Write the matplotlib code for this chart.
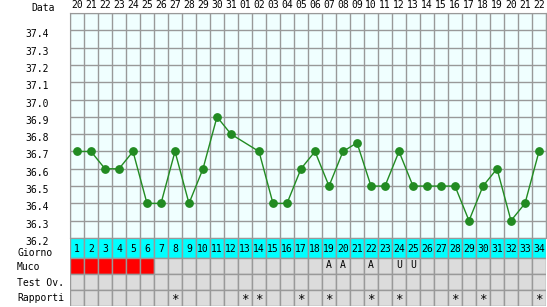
import matplotlib
matplotlib.use('Agg')
import matplotlib.pyplot as plt
import matplotlib.transforms as mtrans
import numpy as np

# --- data ---
dates = ['20', '21', '22', '23', '24', '25', '26', '27', '28', '29', '30', '31',
         '01', '02', '03', '04', '05', '06', '07', '08', '09', '10', '11', '12',
         '13', '14', '15', '16', '17', '18', '19', '20', '21', '22']
giorni = list(range(1, 35))
temps = [36.7, 36.7, 36.6, 36.6, 36.7, 36.4, 36.4, 36.7, 36.4, 36.6,
         36.9, 36.8, None, 36.7, 36.4, 36.4, 36.6, 36.7, 36.5, 36.7,
         36.75, 36.5, 36.5, 36.7, 36.5, 36.5, 36.5, 36.5, 36.3, 36.5,
         36.6, 36.3, 36.4, 36.7]
muco_red = [1, 2, 3, 4, 5, 6]
muco_days = [19, 20, 22, 24, 25]
muco_text = ['A', 'A', 'A', 'U', 'U']
rapporti = [8, 13, 14, 17, 19, 22, 24, 28, 30, 34]
row_names = ['Giorno', 'Muco', 'Test Ov.', 'Rapporti']

W, H = 547, 307
GRID = '#999999'
GREEN = '#228B22'
FONT = 'DejaVu Sans Mono'
FS = 7

fig = plt.figure(figsize=(W / 100, H / 100), dpi=100)
fig.patch.set_facecolor('white')

# temperature chart
ax = fig.add_axes([70 / W, (H - 238) / H, 476 / W, 225 / H])
ax.set_facecolor('#F0FFFF')
ax.set_xlim(0.5, 34.5)
ax.set_ylim(36.2, 37.5)
ax.set_xticks(giorni)
ax.set_xticklabels(dates, fontsize=FS, family=FONT)
ax.xaxis.tick_top()
ax.set_xticks(np.arange(0.5, 35, 1), minor=True)
yt = np.round(np.arange(36.2, 37.45, 0.1), 1)
ax.set_yticks(list(yt) + [37.5])
ax.set_yticklabels([f'{v:.1f}' for v in yt] + [''], fontsize=FS, family=FONT)
ax.tick_params(which='both', length=0)
ax.tick_params(axis='x', pad=2)
ax.tick_params(axis='y', pad=15)
shift = mtrans.ScaledTranslation(0, -3 / 100, fig.dpi_scale_trans)
for lab in ax.get_yticklabels():
    lab.set_transform(lab.get_transform() + shift)
ax.grid(True, which='minor', axis='x', color=GRID, lw=1)
ax.grid(True, which='major', axis='y', color=GRID, lw=1)
for s in ax.spines.values():
    s.set_color(GRID)

xs = [d for d, t in zip(giorni, temps) if t is not None]
ys = [t for t in temps if t is not None]
ax.plot(xs, ys, color=GREEN, lw=1, marker='o', ms=5.3, mec=GREEN, mfc=GREEN)

fig.text(31 / W, 1 - 8 / H, 'Data', fontsize=FS, family=FONT, va='center')

# table rows below
tab = fig.add_axes([70 / W, (H - 306) / H, 476 / W, 68 / H])
tab.set_xlim(0.5, 34.5)
tab.set_ylim(68, 0)
tab.axis('off')
row_tops = [0, 20, 36, 52]
row_h = [20, 16, 16, 16]

tab.bar(giorni, row_h[0], bottom=row_tops[0], width=1, color='#00FFFF',
        edgecolor=GRID, lw=1)
muco_cols = ['#FF0000' if g in muco_red else '#DCDCDC' for g in giorni]
tab.bar(giorni, row_h[1], bottom=row_tops[1], width=1, color=muco_cols,
        edgecolor=GRID, lw=1)
tab.bar(giorni, row_h[2], bottom=row_tops[2], width=1, color='#DCDCDC',
        edgecolor=GRID, lw=1)
tab.bar(giorni, row_h[3], bottom=row_tops[3], width=1, color='#DCDCDC',
        edgecolor=GRID, lw=1)

for g in giorni:
    tab.text(g, row_tops[0] + 11, str(g), ha='center', va='center',
             fontsize=FS, family=FONT)
for d, t in zip(muco_days, muco_text):
    tab.text(d, row_tops[1] + 7, t, ha='center', va='center',
             fontsize=FS, family=FONT)
for d in rapporti:
    tab.text(d, row_tops[3] + 9, '*', ha='center', va='center',
             fontsize=FS + 2, family=FONT)

lab_tr = mtrans.blended_transform_factory(fig.transFigure, tab.transData)
label_y = [15, 29, 45, 60]
for name, y in zip(row_names, label_y):
    tab.text(17 / W, y, name, transform=lab_tr, ha='left', va='center',
             fontsize=FS, family=FONT)

fig.savefig('out.png', dpi=100)
